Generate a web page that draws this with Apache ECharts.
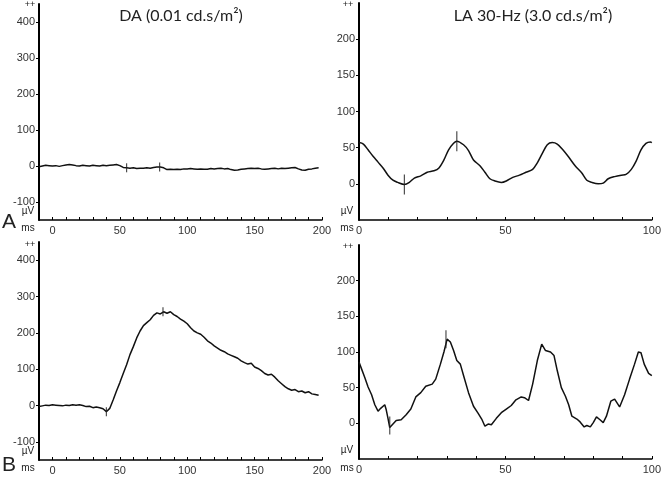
<!DOCTYPE html>
<html>
<head>
<meta charset="utf-8">
<script src="https://cdn.jsdelivr.net/npm/echarts@6/dist/echarts.min.js"></script>
<style>
  html, body { margin: 0; padding: 0; background: #fff; }
  #chart { width: 664px; height: 477px; }
</style>
</head>
<body>
<div id="chart"></div>
<script>
// time base (ms) shared by the two dark-adapted traces
const daTime = [
  -10, -7.5, -5, -2.5, 0, 2.5, 5, 7.5, 10, 12.5,
  15, 17.5, 20, 22.5, 25, 27.5, 30, 32.5, 35, 37.5,
  40, 42.5, 45, 47.5, 50, 52.5, 55, 57.5, 60, 62.5,
  65, 67.5, 70, 72.5, 75, 77.5, 80, 82.5, 85, 87.5,
  90, 92.5, 95, 97.5, 100, 102.5, 105, 107.5, 110, 112.5,
  115, 117.5, 120, 122.5, 125, 127.5, 130, 132.5, 135, 137.5,
  140, 142.5, 145, 147.5, 150, 152.5, 155, 157.5, 160, 162.5,
  165, 167.5, 170, 172.5, 175, 177.5, 180, 182.5, 185, 187.5,
  190, 192.5, 195, 197.5
]
// row A, DA 0.01 (µV)
const daUvA = [
  -2, 0, 2, 1, 0, 1, -1, 1, 3, 4,
  3, 1, 0, 2, 1, 0, 2, 1, 0, 2,
  1, 2, 3, 4, 1, -4, -5, -6, -5, -7,
  -6, -6, -5, -6, -4, -3, -3, -5, -10, -9,
  -10, -9, -10, -8, -8, -7, -8, -9, -8, -9,
  -9, -7, -8, -7, -6, -8, -7, -10, -12, -11,
  -9, -8, -7, -6, -7, -6, -8, -9, -8, -7,
  -6, -8, -6, -7, -6, -5, -4, -8, -11, -12,
  -9, -8, -6, -5
]
// row B, DA 0.01 (µV)
const daUvB = [
  -3, -1, 1, 0, 2, 1, 0, -1, 1, 0,
  2, 1, 2, 0, -3, -2, -6, -4, -6, -9,
  -17, -8, 15, 40, 63, 88, 112, 140, 162, 186,
  205, 220, 228, 236, 248, 255, 252, 258, 254, 258,
  250, 245, 238, 232, 225, 214, 205, 200, 196, 188,
  178, 172, 164, 158, 152, 148, 142, 138, 134, 130,
  123, 118, 114, 116, 106, 102, 96, 88, 84, 86,
  78, 68, 60, 52, 46, 42, 44, 38, 40, 35,
  38, 32, 30, 28
]
const daCursorTimeA = [55, 79.5]
const daCursorUvA = [-5, -3]
const daCursorTimeB = [40, 82]
const daCursorUvB = [-17, 258]

// LA 30 Hz flicker, row A
const flickerTimeA = [
  0, 1.5, 3.1, 4.8, 6.5, 8.2, 9.9, 11.6, 13.2, 15.5,
  17.2, 18.9, 21.1, 23.3, 25.6, 27.3, 29, 30.6, 32.3, 33.4,
  35.7, 37.4, 39.1, 41.3, 43, 44.7, 46.4, 48.6, 50.3, 52.5,
  54.8, 57, 59.3, 60.9, 62.6, 64.3, 66, 67.7, 69.4, 71.6,
  73.8, 76.1, 77.8, 79.5, 81.7, 83.4, 85.1, 87.3, 89.6, 91.2,
  93, 94.6, 96.3, 98, 99.5, 100
]
const flickerUvA = [
  57, 55, 47, 38, 30, 22, 12, 5, 2, -1,
  2, 8, 11, 16, 18, 22, 33, 47, 56, 59,
  54, 46, 33, 25, 16, 7, 4, 2, 4, 9,
  12, 16, 20, 29, 42, 54, 57, 55, 48, 37,
  25, 15, 5, 2, 0, 1, 7, 10, 12, 13,
  20, 31, 47, 56, 58, 57
]
// LA 30 Hz flicker, row B
const flickerTimeB = [
  0, 0.9, 2, 3.1, 4.3, 5.4, 6.5, 7.4, 8.8, 9.3,
  9.9, 10.5, 11.6, 12.7, 14.4, 16.1, 17.7, 19.4, 21.1, 22.8,
  25, 26.2, 27.8, 29, 30.1, 31.2, 32.3, 33.4, 34.6, 35.7,
  37.4, 39.1, 40.7, 41.9, 43, 44.1, 45.2, 46.9, 48.6, 50.3,
  52, 53.6, 55.4, 56.5, 57.9, 59.3, 60.9, 62.4, 63.7, 65.4,
  66.6, 67.7, 69.1, 70.5, 71.6, 72.7, 74.4, 75.5, 76.9, 77.8,
  79, 80, 81.1, 82.3, 83.4, 84.5, 86, 87.3, 89, 90.7,
  92.4, 94.1, 95.4, 96.3, 97.4, 98.9, 99.5, 100
]
const flickerUvB = [
  86, 76, 64, 51, 40, 26, 17, 21, 26, 19,
  7, -6, -1, 4, 5, 12, 20, 37, 43, 52,
  55, 62, 83, 100, 118, 114, 102, 88, 83, 67,
  43, 24, 14, 6, -4, -1, -2, 7, 15, 20,
  25, 33, 37, 36, 32, 55, 88, 111, 102, 100,
  95, 74, 50, 38, 26, 10, 6, 2, -5, -3,
  -5, 1, 9, 5, 1, 10, 31, 34, 23, 40,
  62, 83, 100, 99, 83, 70, 71, 67
]
const flickerCursorTimeA = [15.5, 33.4]
const flickerCursorUvA = [-1, 59]
const flickerCursorTimeB = [10.5, 29.7]
const flickerCursorUvB = [-3, 118]

// axis labels / ticks
const daXLabels = [0, 50, 100, 150, 200]
const daXTicks = [0, 10, 20, 30, 40, 50, 60, 70, 80, 90, 100, 110, 120, 130, 140, 150, 160, 170, 180, 190, 200]
const daYLabels = [-100, 0, 100, 200, 300, 400]
const flickerXLabels = [0, 50, 100]
const flickerXTicks = [0, 10, 20, 30, 40, 50, 60, 70, 80, 90, 100]
const flickerYLabels = [0, 50, 100, 150, 200]

function pairs(xs, ys) {
  return xs.map((x, i) => [x, ys[i]])
}

const labelFont = { color: '#333', fontSize: 11, fontFamily: 'Liberation Sans' }

function xAxisFor(grid, min, max, labels, ticks) {
  return {
    type: 'value', gridIndex: grid, min: min, max: max,
    axisLine: { show: true, onZero: false, lineStyle: { color: '#000', width: 1.5 } },
    axisTick: { show: true, inside: true, length: 3, customValues: ticks, lineStyle: { color: '#000' } },
    axisLabel: { customValues: labels, margin: 5, ...labelFont },
    splitLine: { show: false },
  }
}

function yAxisFor(grid, min, max, labels) {
  return {
    type: 'value', gridIndex: grid, min: min, max: max,
    axisLine: { show: true, onZero: false, lineStyle: { color: '#000', width: 2 } },
    axisTick: { show: true, inside: false, length: 3, customValues: labels, lineStyle: { color: '#000' } },
    axisLabel: { customValues: labels, margin: 4, ...labelFont },
    splitLine: { show: false },
  }
}

function trace(idx, data, smooth) {
  return {
    type: 'line', xAxisIndex: idx, yAxisIndex: idx, data: data,
    showSymbol: false, smooth: smooth, silent: true,
    lineStyle: { color: '#111', width: 1.5 },
  }
}

function cursors(idx, data, h) {
  return {
    type: 'scatter', xAxisIndex: idx, yAxisIndex: idx, data: data,
    symbol: 'rect', symbolSize: [1.2, h], silent: true,
    itemStyle: { color: '#222' }, z: 3,
  }
}

function txt(x, y, text, size, align, family) {
  return {
    type: 'text', x: x, y: y,
    style: {
      text: text, fontSize: size, fontFamily: family || 'Liberation Sans',
      fill: '#222', align: align || 'center', verticalAlign: 'middle',
    },
  }
}

const chart = echarts.init(document.getElementById('chart'))
chart.setOption({
  animation: false,
  backgroundColor: '#fff',
  grid: [
    { left: 39, top: 4, width: 283, height: 216 },
    { left: 359, top: 3, width: 297, height: 217 },
    { left: 39, top: 242, width: 283, height: 218 },
    { left: 359, top: 245, width: 297, height: 214 },
  ],
  xAxis: [
    xAxisFor(0, -10, 200, daXLabels, daXTicks),
    xAxisFor(1, 0, 100, flickerXLabels, flickerXTicks),
    xAxisFor(2, -10, 200, daXLabels, daXTicks),
    xAxisFor(3, 0, 100, flickerXLabels, flickerXTicks),
  ],
  yAxis: [
    yAxisFor(0, -150, 450, daYLabels),
    yAxisFor(1, -50, 250, flickerYLabels),
    yAxisFor(2, -150, 450, daYLabels),
    yAxisFor(3, -50, 250, flickerYLabels),
  ],
  series: [
    trace(0, pairs(daTime, daUvA), false),
    cursors(0, pairs(daCursorTimeA, daCursorUvA), 9),
    trace(1, pairs(flickerTimeA, flickerUvA), 0.3),
    cursors(1, pairs(flickerCursorTimeA, flickerCursorUvA), 20),
    trace(2, pairs(daTime, daUvB), false),
    cursors(2, pairs(daCursorTimeB, daCursorUvB), 9),
    trace(3, pairs(flickerTimeB, flickerUvB), false),
    cursors(3, pairs(flickerCursorTimeB, flickerCursorUvB), 18),
  ],
  graphic: [
    txt(181, 16, 'DA (0.01 cd.s/m²)', 16, 'center', 'Lato'),
    txt(533, 16, 'LA 30-Hz (3.0 cd.s/m²)', 16, 'center', 'Lato'),
    txt(30, 5, '++', 9), txt(348, 5, '++', 9),
    txt(30, 245, '++', 9), txt(348, 247, '++', 9),
    txt(28, 211, 'µV', 10), txt(28, 228, 'ms', 10),
    txt(347, 211, 'µV', 10), txt(347, 228, 'ms', 10),
    txt(28, 451, 'µV', 10), txt(28, 468, 'ms', 10),
    txt(347, 450, 'µV', 10), txt(347, 468, 'ms', 10),
    txt(9, 222, 'A', 21), txt(9, 465, 'B', 21),
  ],
})
</script>
</body>
</html>
